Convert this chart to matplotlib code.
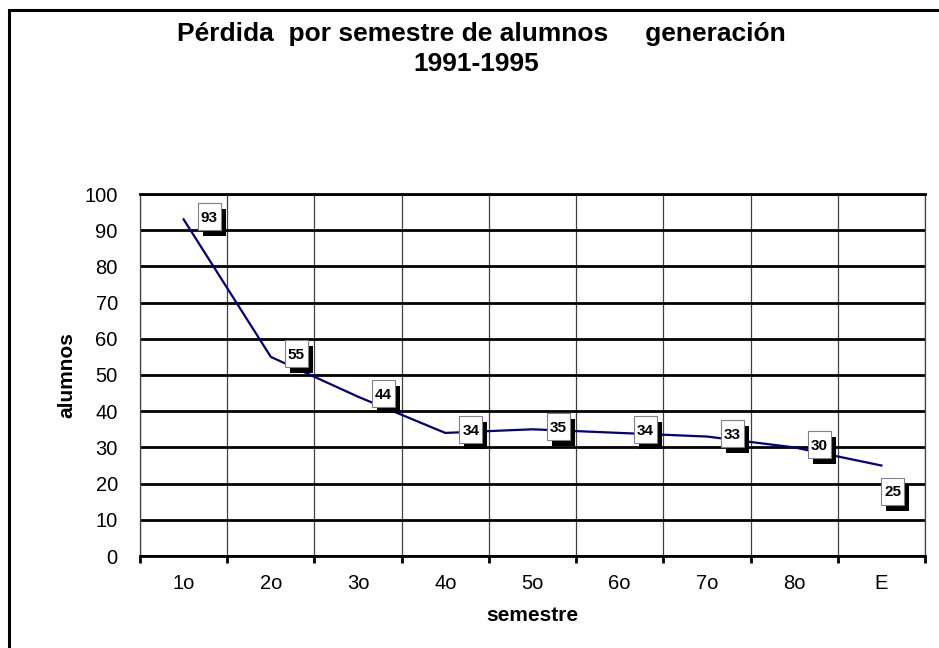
#!/usr/bin/env python3

import numpy as np
import matplotlib.pyplot as plt
from matplotlib.patches import Rectangle
from matplotlib.transforms import ScaledTranslation

plt.rcParams['font.family'] = ['Liberation Sans', 'DejaVu Sans']

# -----------------------------------------------------
semestres = ["1o", "2o", "3o", "4o", "5o", "6o", "7o", "8o", "E"]
alumnos   = [93, 55, 44, 34, 35, 34, 33, 30, 25]
# -----------------------------------------------------

fig = plt.figure(figsize=(9.39, 6.48), dpi=100)
ax = fig.add_axes([140/939, 1 - 556/648, 785/939, 362/648])

x = np.arange(len(semestres))
ax.plot(x, alumnos, color='#000080', lw=1.6, zorder=3)

# data labels: white box with black drop shadow (sizes in inches)
bw, bh = 0.23, 0.27
for i, v in enumerate(alumnos):
    cx, cy = 0.255, 0.03
    if i == len(alumnos) - 1:
        cx, cy = 0.115, -0.255
    tr = fig.dpi_scale_trans + ScaledTranslation(x[i], v, ax.transData)
    ax.add_patch(Rectangle((cx - bw/2 + 0.05, cy - bh/2 - 0.06), bw, bh, transform=tr,
                           fc='black', ec='none', zorder=4, clip_on=False))
    ax.add_patch(Rectangle((cx - bw/2, cy - bh/2), bw, bh, transform=tr,
                           fc='white', ec='#808080', lw=0.8, zorder=5, clip_on=False))
    ax.text(cx, cy - 0.055, str(v), transform=tr, ha='center', va='baseline',
            fontsize=11, fontweight='bold', zorder=6)

ax.set_xlim(-0.5, len(semestres) - 0.5)
ax.set_ylim(0, 100)
ax.set_yticks(np.arange(0, 101, 10))
ax.set_xticks(np.arange(-0.5, len(semestres), 1.0))
ax.set_xticklabels([])
ax.set_xticks(x, minor=True)
ax.set_xticklabels(semestres, minor=True)
ax.tick_params(axis='x', which='major', direction='out', length=5, width=2, color='black')
ax.tick_params(axis='x', which='minor', length=0, pad=13, labelsize=14.5)
ax.tick_params(axis='y', length=0, pad=16, labelsize=14.5)

ax.grid(axis='y', color='black', lw=2, zorder=1)
ax.grid(axis='x', which='major', color='#404040', lw=0.9, zorder=1)
ax.set_axisbelow(True)
for s in ['left', 'right']:
    ax.spines[s].set_linewidth(0.9)
    ax.spines[s].set_color('#404040')
ax.spines['top'].set_linewidth(2)
ax.spines['bottom'].set_linewidth(2)

ax.set_xlabel("semestre", fontsize=15, fontweight='bold', labelpad=9)
ax.set_ylabel("alumnos", fontsize=15, fontweight='bold', labelpad=6)

fig.text(481/939, 1 - 34/648, "Pérdida  por semestre de alumnos     generación",
         ha='center', va='center', fontsize=19, fontweight='bold')
fig.text(476/939, 1 - 64/648, "1991-1995",
         ha='center', va='center', fontsize=19, fontweight='bold')

# chart area border
fig.patches.append(Rectangle((9/939, -0.1), 1.1, 1.1 - 10/648, transform=fig.transFigure,
                             fill=False, ec='black', lw=2.2))

fig.savefig('out.png', dpi=100)
